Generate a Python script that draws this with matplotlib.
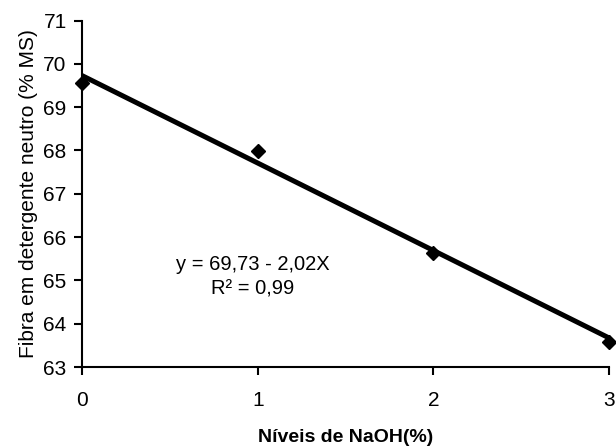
import numpy as np
import matplotlib
matplotlib.use("Agg")
import matplotlib.pyplot as plt

plt.rcParams["font.family"] = ["Liberation Sans", "DejaVu Sans"]

# Data
naoh_levels = [0, 1, 2, 3]
fdn_values = [69.55, 67.98, 65.63, 63.58]
intercept, slope = 69.73, -2.02

fig = plt.figure(figsize=(6.16, 4.46), dpi=100)
ax = fig.add_axes([0.133, 0.177, 0.856, 0.777])

x_line = np.array([naoh_levels[0], naoh_levels[-1]])
ax.plot(x_line, intercept + slope * x_line, color="black", lw=3.6, solid_capstyle="butt", zorder=2)
ax.plot(naoh_levels, fdn_values, "D", color="black", ms=7, zorder=3)

ax.set_xlim(0, 3)
ax.set_ylim(63, 71)
ax.set_xticks(naoh_levels)
ax.set_yticks(range(63, 72))
ax.spines["top"].set_visible(False)
ax.spines["right"].set_visible(False)
for s in ("left", "bottom"):
    ax.spines[s].set_linewidth(1.5)
ax.tick_params(axis="both", direction="out", length=6, width=1.5, labelsize=15)
ax.tick_params(axis="x", pad=11)
ax.tick_params(axis="y", pad=5)
for art in ax.lines:
    art.set_clip_on(False)

ax.set_ylabel("Fibra em detergente neutro (% MS)", fontsize=15, labelpad=4)
ax.set_xlabel("Níveis de NaOH(%)", fontsize=14, fontweight="bold", labelpad=14)

ax.text(0.97, 65.37, "y = 69,73 - 2,02X", fontsize=14.5, ha="center", va="center")
ax.text(0.97, 64.8, "R² = 0,99", fontsize=14.5, ha="center", va="center")

fig.savefig("out.png", dpi=100)
